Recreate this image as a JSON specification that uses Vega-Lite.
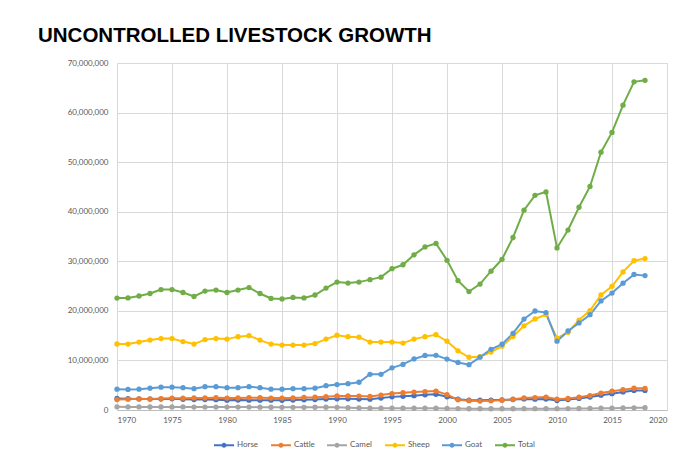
{
  "$schema": "https://vega.github.io/schema/vega-lite/v6.json",
  "width": 550,
  "height": 347,
  "autosize": {"type": "none"},
  "padding": {"left": 117, "top": 63, "right": 12, "bottom": 45},
  "background": "white",
  "title": {
    "text": "UNCONTROLLED LIVESTOCK GROWTH",
    "anchor": "start",
    "frame": "group",
    "dx": -79,
    "offset": -3,
    "baseline": "alphabetic",
    "font": "Liberation Sans",
    "fontSize": 20.5,
    "fontWeight": "bold",
    "color": "#000000"
  },
  "data": {
    "values": [
      {"year": 1970, "Horse": 2318000, "Cattle": 2108000, "Camel": 633000, "Sheep": 13312000, "Goat": 4204000, "Total": 22575000},
      {"year": 1971, "Horse": 2293000, "Cattle": 2180000, "Camel": 626000, "Sheep": 13300000, "Goat": 4150000, "Total": 22600000},
      {"year": 1972, "Horse": 2239000, "Cattle": 2250000, "Camel": 614000, "Sheep": 13700000, "Goat": 4200000, "Total": 23000000},
      {"year": 1973, "Horse": 2200000, "Cattle": 2215000, "Camel": 609000, "Sheep": 14100000, "Goat": 4400000, "Total": 23500000},
      {"year": 1974, "Horse": 2206000, "Cattle": 2302000, "Camel": 606000, "Sheep": 14400000, "Goat": 4600000, "Total": 24300000},
      {"year": 1975, "Horse": 2251000, "Cattle": 2388000, "Camel": 625000, "Sheep": 14400000, "Goat": 4600000, "Total": 24300000},
      {"year": 1976, "Horse": 2170000, "Cattle": 2382000, "Camel": 610000, "Sheep": 13800000, "Goat": 4500000, "Total": 23700000},
      {"year": 1977, "Horse": 2111000, "Cattle": 2427000, "Camel": 599000, "Sheep": 13300000, "Goat": 4300000, "Total": 22900000},
      {"year": 1978, "Horse": 2108000, "Cattle": 2424000, "Camel": 592000, "Sheep": 14200000, "Goat": 4700000, "Total": 24000000},
      {"year": 1979, "Horse": 2079000, "Cattle": 2478000, "Camel": 590000, "Sheep": 14400000, "Goat": 4700000, "Total": 24200000},
      {"year": 1980, "Horse": 1986000, "Cattle": 2397000, "Camel": 592000, "Sheep": 14300000, "Goat": 4500000, "Total": 23700000},
      {"year": 1981, "Horse": 2021000, "Cattle": 2432000, "Camel": 598000, "Sheep": 14800000, "Goat": 4500000, "Total": 24200000},
      {"year": 1982, "Horse": 1990000, "Cattle": 2492000, "Camel": 591000, "Sheep": 15000000, "Goat": 4700000, "Total": 24700000},
      {"year": 1983, "Horse": 1985000, "Cattle": 2485000, "Camel": 573000, "Sheep": 14100000, "Goat": 4500000, "Total": 23500000},
      {"year": 1984, "Horse": 1975000, "Cattle": 2416000, "Camel": 556000, "Sheep": 13300000, "Goat": 4200000, "Total": 22500000},
      {"year": 1985, "Horse": 1971000, "Cattle": 2408000, "Camel": 544000, "Sheep": 13100000, "Goat": 4200000, "Total": 22400000},
      {"year": 1986, "Horse": 1999000, "Cattle": 2436000, "Camel": 547000, "Sheep": 13100000, "Goat": 4300000, "Total": 22700000},
      {"year": 1987, "Horse": 2049000, "Cattle": 2539000, "Camel": 548000, "Sheep": 13100000, "Goat": 4300000, "Total": 22600000},
      {"year": 1988, "Horse": 2101000, "Cattle": 2572000, "Camel": 554000, "Sheep": 13400000, "Goat": 4400000, "Total": 23200000},
      {"year": 1989, "Horse": 2200000, "Cattle": 2693000, "Camel": 558000, "Sheep": 14300000, "Goat": 4900000, "Total": 24600000},
      {"year": 1990, "Horse": 2262000, "Cattle": 2849000, "Camel": 538000, "Sheep": 15083000, "Goat": 5126000, "Total": 25800000},
      {"year": 1991, "Horse": 2259000, "Cattle": 2823000, "Camel": 476000, "Sheep": 14800000, "Goat": 5300000, "Total": 25600000},
      {"year": 1992, "Horse": 2200000, "Cattle": 2819000, "Camel": 415000, "Sheep": 14700000, "Goat": 5600000, "Total": 25800000},
      {"year": 1993, "Horse": 2190000, "Cattle": 2731000, "Camel": 367000, "Sheep": 13700000, "Goat": 7200000, "Total": 26300000},
      {"year": 1994, "Horse": 2409000, "Cattle": 3005000, "Camel": 366000, "Sheep": 13700000, "Goat": 7200000, "Total": 26800000},
      {"year": 1995, "Horse": 2648000, "Cattle": 3317000, "Camel": 368000, "Sheep": 13700000, "Goat": 8500000, "Total": 28500000},
      {"year": 1996, "Horse": 2771000, "Cattle": 3476000, "Camel": 358000, "Sheep": 13500000, "Goat": 9200000, "Total": 29300000},
      {"year": 1997, "Horse": 2893000, "Cattle": 3613000, "Camel": 355000, "Sheep": 14300000, "Goat": 10300000, "Total": 31300000},
      {"year": 1998, "Horse": 3059000, "Cattle": 3726000, "Camel": 357000, "Sheep": 14800000, "Goat": 11000000, "Total": 32900000},
      {"year": 1999, "Horse": 3164000, "Cattle": 3825000, "Camel": 356000, "Sheep": 15191000, "Goat": 11034000, "Total": 33600000},
      {"year": 2000, "Horse": 2661000, "Cattle": 3098000, "Camel": 323000, "Sheep": 13876000, "Goat": 10270000, "Total": 30200000},
      {"year": 2001, "Horse": 2192000, "Cattle": 2070000, "Camel": 285000, "Sheep": 11937000, "Goat": 9592000, "Total": 26100000},
      {"year": 2002, "Horse": 1989000, "Cattle": 1884000, "Camel": 253000, "Sheep": 10637000, "Goat": 9135000, "Total": 23900000},
      {"year": 2003, "Horse": 1969000, "Cattle": 1793000, "Camel": 257000, "Sheep": 10756000, "Goat": 10653000, "Total": 25400000},
      {"year": 2004, "Horse": 2005000, "Cattle": 1842000, "Camel": 256000, "Sheep": 11686000, "Goat": 12238000, "Total": 28000000},
      {"year": 2005, "Horse": 2029000, "Cattle": 1964000, "Camel": 254000, "Sheep": 12885000, "Goat": 13267000, "Total": 30400000},
      {"year": 2006, "Horse": 2115000, "Cattle": 2168000, "Camel": 253000, "Sheep": 14815000, "Goat": 15452000, "Total": 34800000},
      {"year": 2007, "Horse": 2240000, "Cattle": 2426000, "Camel": 261000, "Sheep": 16990000, "Goat": 18348000, "Total": 40300000},
      {"year": 2008, "Horse": 2187000, "Cattle": 2504000, "Camel": 266000, "Sheep": 18362000, "Goat": 19969000, "Total": 43300000},
      {"year": 2009, "Horse": 2221000, "Cattle": 2599000, "Camel": 277000, "Sheep": 19275000, "Goat": 19651000, "Total": 44000000},
      {"year": 2010, "Horse": 1920000, "Cattle": 2176000, "Camel": 270000, "Sheep": 14480000, "Goat": 13883000, "Total": 32700000},
      {"year": 2011, "Horse": 2113000, "Cattle": 2340000, "Camel": 280000, "Sheep": 15668000, "Goat": 15935000, "Total": 36300000},
      {"year": 2012, "Horse": 2330000, "Cattle": 2585000, "Camel": 306000, "Sheep": 18141000, "Goat": 17558000, "Total": 40900000},
      {"year": 2013, "Horse": 2619000, "Cattle": 2909000, "Camel": 322000, "Sheep": 20066000, "Goat": 19228000, "Total": 45100000},
      {"year": 2014, "Horse": 2996000, "Cattle": 3414000, "Camel": 349000, "Sheep": 23215000, "Goat": 22009000, "Total": 52000000},
      {"year": 2015, "Horse": 3295000, "Cattle": 3780000, "Camel": 368000, "Sheep": 24943000, "Goat": 23593000, "Total": 56000000},
      {"year": 2016, "Horse": 3636000, "Cattle": 4081000, "Camel": 401000, "Sheep": 27857000, "Goat": 25575000, "Total": 61500000},
      {"year": 2017, "Horse": 3940000, "Cattle": 4388000, "Camel": 434000, "Sheep": 30110000, "Goat": 27347000, "Total": 66200000},
      {"year": 2018, "Horse": 3940000, "Cattle": 4380000, "Camel": 460000, "Sheep": 30554000, "Goat": 27108000, "Total": 66500000}
    ]
  },
  "transform": [
    {"fold": ["Horse", "Cattle", "Camel", "Sheep", "Goat", "Total"], "as": ["series", "value"]}
  ],
  "mark": {"type": "line", "strokeWidth": 2, "point": {"size": 28, "filled": true}},
  "encoding": {
    "x": {
      "field": "year",
      "type": "quantitative",
      "scale": {"domain": [1970, 2020], "nice": false, "zero": false},
      "axis": {
        "title": null,
        "values": [1970, 1975, 1980, 1985, 1990, 1995, 2000, 2005, 2010, 2015, 2020],
        "format": "d",
        "ticks": false,
        "labelPadding": 6,
        "labelFont": "Lato",
        "labelFontSize": 8,
        "labelColor": "#595959",
        "domainColor": "#bfbfbf",
        "gridColor": "#d9d9d9"
      }
    },
    "y": {
      "field": "value",
      "type": "quantitative",
      "scale": {"domain": [0, 70000000], "nice": false},
      "axis": {
        "title": null,
        "values": [0, 10000000, 20000000, 30000000, 40000000, 50000000, 60000000, 70000000],
        "format": ",.0f",
        "ticks": false,
        "labelPadding": 9,
        "labelFont": "Lato",
        "labelFontSize": 8,
        "labelColor": "#595959",
        "domainColor": "#d9d9d9",
        "gridColor": "#d9d9d9"
      }
    },
    "color": {
      "field": "series",
      "type": "nominal",
      "scale": {
        "domain": ["Horse", "Cattle", "Camel", "Sheep", "Goat", "Total"],
        "range": ["#4472C4", "#ED7D31", "#A5A5A5", "#FFC000", "#5B9BD5", "#70AD47"]
      },
      "legend": {
        "title": null,
        "orient": "none",
        "direction": "horizontal",
        "legendX": 96,
        "legendY": 371,
        "labelFont": "Lato",
        "labelFontSize": 8,
        "labelColor": "#595959",
        "symbolType": "M-1,0L1,0M0.15,0A0.15,0.15,0,1,1,-0.15,0A0.15,0.15,0,1,1,0.15,0",
        "symbolSize": 400,
        "symbolStrokeWidth": 2,
        "labelOffset": 2,
        "columnPadding": 8
      }
    }
  },
  "config": {
    "view": {"stroke": null}
  }
}
